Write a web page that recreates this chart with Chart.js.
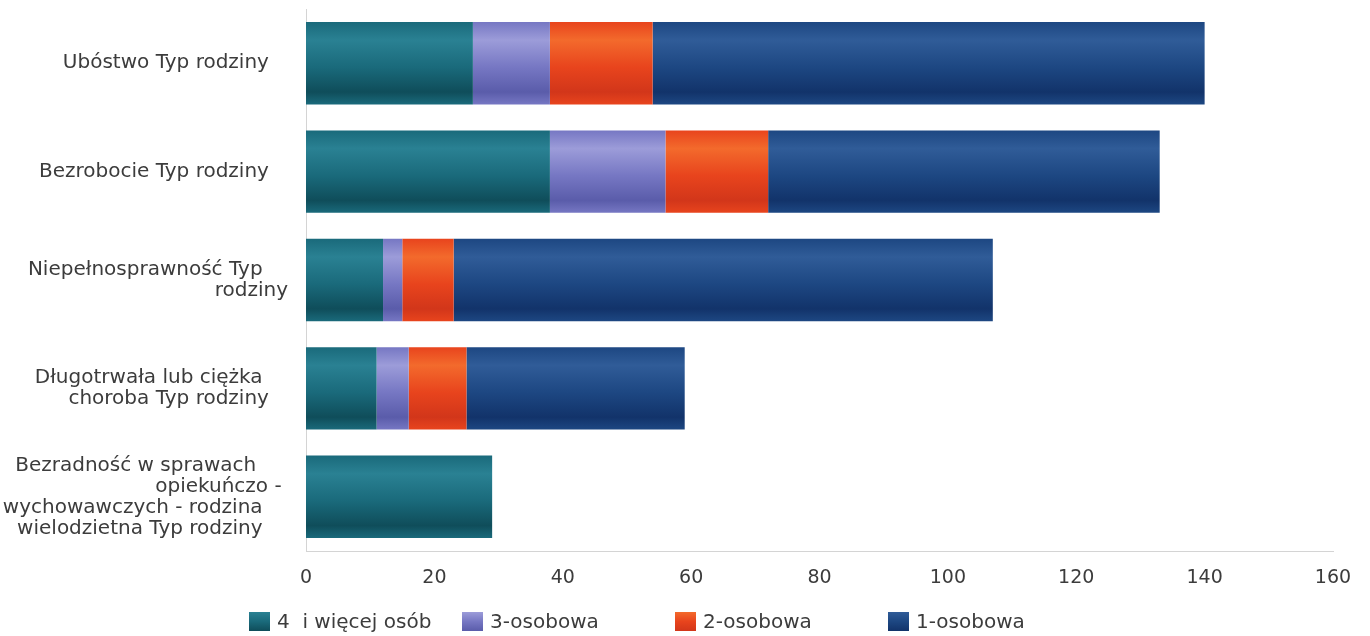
<!DOCTYPE html>
<html lang="pl">
<head>
<meta charset="utf-8">
<title>Typ rodziny</title>
<script src="https://cdn.jsdelivr.net/npm/chart.js@4"></script>
<style>
    html, body { margin: 0; padding: 0; background: #ffffff; }
    #wrap { position: relative; width: 1370px; height: 636px; }
    #chart { position: absolute; left: 0; top: 0; }
    #legend {
        position: absolute; left: 249px; top: 609px;
        display: flex; font-family: 'DejaVu Sans', sans-serif; font-size: 20px; color: #3c3c3c;
    }
    #legend .item { width: 213px; display: flex; align-items: center; white-space: pre; }
    #legend .box { width: 21px; height: 19px; margin-right: 7px; }
</style>
</head>
<body>
<div id="wrap">
    <canvas id="chart" width="1370" height="636"></canvas>
    <div id="legend"></div>
</div>
<script>
// ---- data ----
// trailing spaces mimic the ragged right edge of the wrapped labels
const categories = [
    ['Ubóstwo Typ rodziny   '],
    ['Bezrobocie Typ rodziny   '],
    ['Niepełnosprawność Typ    ', 'rodziny'],
    ['Długotrwała lub ciężka    ', 'choroba Typ rodziny   '],
    ['Bezradność w sprawach     ', 'opiekuńczo - ', 'wychowawczych - rodzina    ', 'wielodzietna Typ rodziny    ']
];
const seriesNames = ['4  i więcej osób', '3-osobowa', '2-osobowa', '1-osobowa'];
const s4plus = [26, 38, 12, 11, 29];
const s3 = [12, 18, 3, 5, 0];
const s2 = [16, 16, 8, 9, 0];
const s1 = [86, 61, 84, 34, 0];
const xTicks = [0, 20, 40, 60, 80, 100, 120, 140, 160];

// colours: [dark, light, base]
const palette = [
    ['#0f4d5a', '#2a8193', '#1a6a7b'],
    ['#5a5caa', '#9c9cd9', '#7677c3'],
    ['#d2361a', '#f36a2c', '#e8441d'],
    ['#12336a', '#305c98', '#1d4782']
];

const TEXT = '#3c3c3c';

function barFill(idx) {
    return function(ctx) {
        const chart = ctx.chart;
        const y = chart.scales && chart.scales.y;
        const c = palette[idx];
        if (!y || ctx.dataIndex === undefined) return c[2];
        const mid = y.getPixelForValue(ctx.dataIndex);
        const h = (y.height / categories.length) * 0.76;
        if (!isFinite(mid) || !isFinite(h) || h <= 0) return c[2];
        const g = chart.ctx.createLinearGradient(0, mid - h / 2, 0, mid + h / 2);
        g.addColorStop(0, c[2]);
        g.addColorStop(0.22, c[1]);
        g.addColorStop(0.55, c[2]);
        g.addColorStop(0.85, c[0]);
        g.addColorStop(1, c[2]);
        return g;
    };
}

const values = [s4plus, s3, s2, s1];
const datasets = values.map((v, i) => ({
    label: seriesNames[i],
    data: v,
    backgroundColor: barFill(i),
    borderWidth: 0,
    categoryPercentage: 0.8,
    barPercentage: 0.95
}));

new Chart(document.getElementById('chart'), {
    type: 'bar',
    data: { labels: categories, datasets: datasets },
    options: {
        indexAxis: 'y',
        responsive: false,
        animation: false,
        layout: { padding: { top: 9, right: 37, left: 0, bottom: 0 } },
        plugins: {
            legend: { display: false },
            tooltip: { enabled: false }
        },
        scales: {
            x: {
                stacked: true,
                min: 0,
                max: 160,
                afterFit: (scale) => { scale.height = 85; },
                afterBuildTicks: (scale) => { scale.ticks = xTicks.map(v => ({ value: v })); },
                ticks: { font: { family: 'DejaVu Sans, sans-serif', size: 19 }, color: TEXT, padding: 16 },
                grid: { display: false, drawTicks: false },
                border: { display: true, color: '#d4d4d4', width: 1 }
            },
            y: {
                stacked: true,
                afterFit: (scale) => {
                    scale.width = 306;
                    scale.paddingTop = 0;
                    scale.paddingBottom = 0;
                },
                ticks: {
                    font: { family: 'DejaVu Sans, sans-serif', size: 20, lineHeight: 1.05 },
                    color: TEXT,
                    padding: 18
                },
                grid: { display: false, drawTicks: false },
                border: { display: true, color: '#d4d4d4', width: 1 }
            }
        }
    }
});

// legend with fixed spacing
const legend = document.getElementById('legend');
seriesNames.forEach((name, i) => {
    const item = document.createElement('div');
    item.className = 'item';
    const box = document.createElement('span');
    box.className = 'box';
    box.style.background = 'linear-gradient(' + palette[i][1] + ', ' + palette[i][2] + ' 50%, ' + palette[i][0] + ')';
    const txt = document.createElement('span');
    txt.textContent = name;
    item.appendChild(box);
    item.appendChild(txt);
    legend.appendChild(item);
});
</script>
</body>
</html>
